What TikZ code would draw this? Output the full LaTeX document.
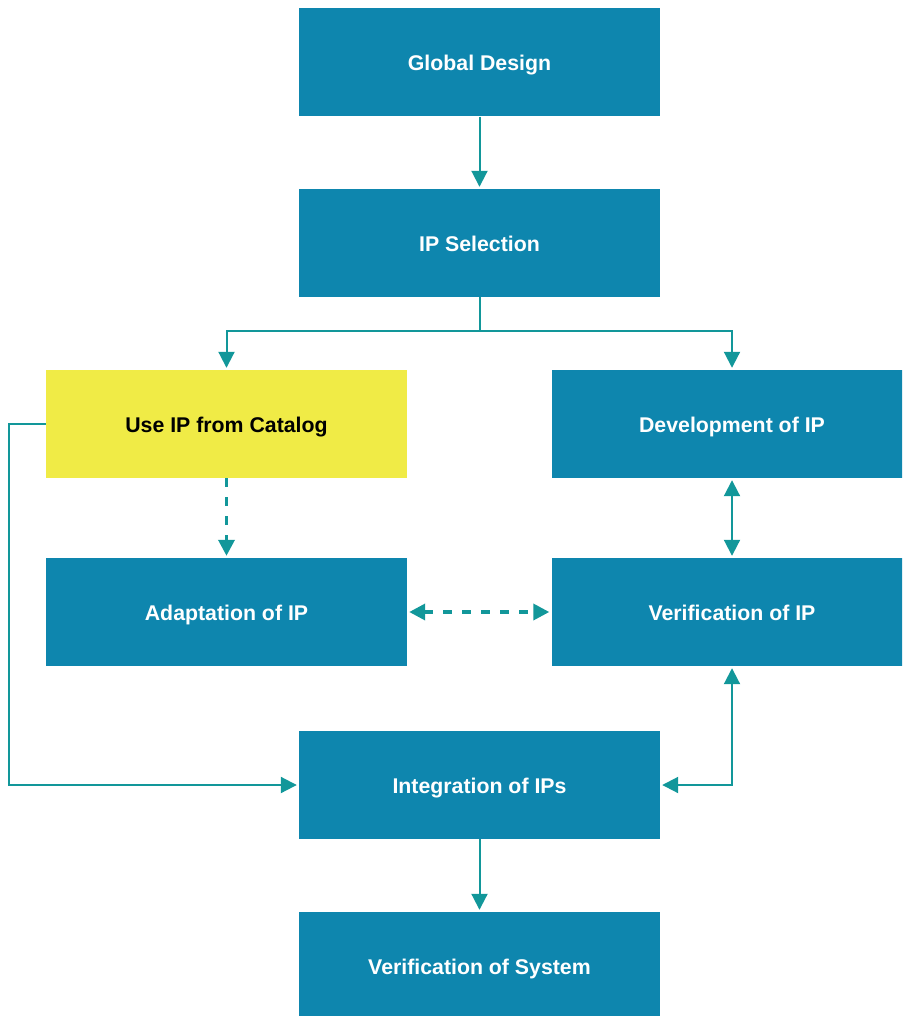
\documentclass[tikz,border=0pt]{standalone}
\usepackage{fontspec}
\setmainfont{Liberation Sans}
\usetikzlibrary{arrows.meta}
\definecolor{boxblue}{HTML}{0E86AE}
\definecolor{linkteal}{HTML}{12979A}
\definecolor{catyellow}{HTML}{F0EB46}
\tikzset{
  stage/.style={fill=boxblue, draw=none, text=white, font=\bfseries\fontsize{21.3}{24}\selectfont,
    text height=17pt, text depth=0pt,
    minimum width=361pt, minimum height=108pt, inner sep=0pt, anchor=center},
  catalog/.style={stage, fill=catyellow, text=black},
  link/.style={draw=linkteal, line width=2pt, -{Triangle[length=16pt,width=16pt]}, shorten >=2pt},
  dlink/.style={link, {Triangle[length=16pt,width=16pt]}-{Triangle[length=16pt,width=16pt]}, shorten <=2pt},
  dashlink/.style={link, line width=3.5pt, dash pattern=on 9pt off 10pt}
}
\begin{document}
\begin{tikzpicture}[x=1pt, y=-1pt]
\useasboundingbox (0,0) rectangle (902,1016);
\clip (0,0) rectangle (902,1016);
% process stages
\node[stage]   (global) at (479.5,62.5) {Global Design};
\node[stage]   (select) at (479.5,243)  {IP Selection};
\node[catalog] (use)    at (226.5,424)  {Use IP from Catalog};
\node[stage]   (dev)    at (732,424)    {Development of IP};
\node[stage]   (adapt)  at (226.5,612)  {Adaptation of IP};
\node[stage]   (verip)  at (732,612)    {Verification of IP};
\node[stage]   (integ)  at (479.5,785)  {Integration of IPs};
\node[stage]   (versys) at (479.5,966)  {Verification of System};
% routing points
\coordinate (split) at (479.5,331);
\coordinate (lefttrack) at (9,0);
% connectors
\draw[link] (global) -- (select);
\draw[link] (select.south) -- (split) -| (use.north);
\draw[link] (split) -| (dev.north);
\draw[dashlink] (use) -- (adapt);
\draw[dlink, dash pattern=on 9pt off 10pt, line width=3.5pt] (adapt) -- (verip);
\draw[dlink] (dev) -- (verip);
\draw[link] (use.west) -- (use.west -| lefttrack) |- (integ.west);
\draw[dlink] (verip.south) |- (integ.east);
\draw[link] (integ) -- (versys);
\end{tikzpicture}
\end{document}
